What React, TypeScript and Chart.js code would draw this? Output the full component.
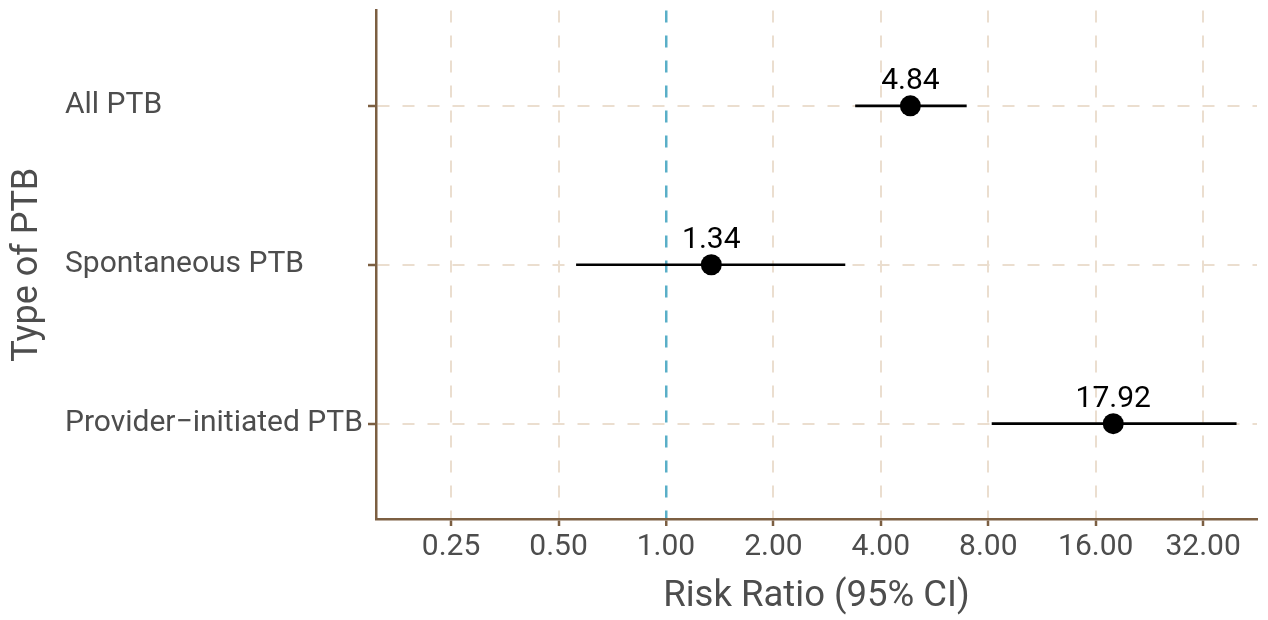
import React, { useEffect, useRef } from "react";
import { Chart, registerables } from "chart.js";

Chart.register(...registerables);

const categories = ["All PTB", "Spontaneous PTB", "Provider\u2212initiated PTB"];
const riskRatios = [4.84, 1.34, 17.92];
const lowerCI = [3.39, 0.56, 8.18];
const upperCI = [6.96, 3.18, 39.7];
const xTicks = [0.25, 0.5, 1, 2, 4, 8, 16, 32];
const xMin = 0.154;
const xMax = 45.3;

const BROWN = "#7c5f42";
const GRID = "#ebdecf";
const BLUE = "#5aafc8";
const TEXT = "#4d4d4d";
const FONT = "Roboto";

const valueLabels = {
  id: "valueLabels",
  afterDatasetsDraw(chart: any) {
    const { ctx } = chart;
    const xs = chart.scales.x;
    const ys = chart.scales.y;
    ctx.save();
    ctx.fillStyle = "#000000";
    ctx.font = `30px ${FONT}`;
    ctx.textAlign = "center";
    ctx.textBaseline = "alphabetic";
    riskRatios.forEach((v, i) => {
      const px = xs.getPixelForValue(v);
      const py = ys.getPixelForValue(i + 1);
      ctx.fillText(v.toFixed(2), px, py - 17);
    });
    ctx.restore();
  },
};

export default function App() {
  const ref = useRef<HTMLCanvasElement | null>(null);

  useEffect(() => {
    if (!ref.current) return;
    const pointData = riskRatios.map((v, i) => ({ x: v, y: i + 1 }));
    const ciSets = categories.map((_, i) => ({
      type: "line" as const,
      data: [
        { x: lowerCI[i], y: i + 1 },
        { x: upperCI[i], y: i + 1 },
      ],
      showLine: true,
      borderColor: "#000000",
      borderWidth: 2.6,
      pointRadius: 0,
      fill: false,
    }));
    const chart = new Chart(ref.current, {
      type: "scatter",
      data: {
        datasets: [
          {
            data: pointData,
            pointRadius: 10.5,
            pointBackgroundColor: "#000000",
            pointBorderColor: "#000000",
            pointBorderWidth: 0,
          } as any,
          ...ciSets,
        ],
      },
      options: {
        animation: false,
        responsive: false,
        maintainAspectRatio: false,
        layout: { padding: { left: 65, top: 10, right: 11, bottom: 0 } },
        plugins: { legend: { display: false }, tooltip: { enabled: false } },
        scales: {
          x: {
            type: "logarithmic",
            min: xMin,
            max: xMax,
            afterBuildTicks: (scale: any) => {
              scale.ticks = xTicks.map((v) => ({ value: v }));
            },
            afterFit: (scale: any) => {
              scale.height = 101;
              scale.paddingLeft = 0;
              scale.paddingRight = 0;
            },
            ticks: {
              autoSkip: false,
              maxRotation: 0,
              color: TEXT,
              font: { family: FONT, size: 30 },
              padding: 3,
              callback: (v: any) => Number(v).toFixed(2),
            },
            grid: {
              color: (c: any) => (c.tick && c.tick.value === 1 ? BLUE : GRID),
              lineWidth: (c: any) => (c.tick && c.tick.value === 1 ? 2.5 : 2),
              tickColor: BROWN,
              tickWidth: 2.5,
              tickLength: 7,
              tickBorderDash: [],
            } as any,
            border: { display: true, color: BROWN, width: 2.5, dash: [12, 13] } as any,
            title: {
              display: true,
              text: "Risk Ratio (95% CI)",
              color: TEXT,
              font: { family: FONT, size: 36.5 },
              padding: { top: 0, bottom: 1 },
            },
          },
          y: {
            type: "linear",
            reverse: true,
            min: 0.4,
            max: 3.6,
            afterBuildTicks: (scale: any) => {
              scale.ticks = categories.map((_, i) => ({ value: i + 1 }));
            },
            afterFit: (scale: any) => {
              scale.width = 311;
              scale.paddingTop = 0;
              scale.paddingBottom = 0;
            },
            ticks: {
              autoSkip: false,
              crossAlign: "far",
              color: TEXT,
              font: { family: FONT, size: 30 },
              callback: (v: any) => categories[Math.round(Number(v)) - 1] ?? "",
            },
            grid: {
              color: GRID,
              lineWidth: 2,
              tickColor: BROWN,
              tickWidth: 2.5,
              tickLength: 8,
              tickBorderDash: [],
            } as any,
            border: { display: true, color: BROWN, width: 2.5, dash: [12, 13] } as any,
            title: {
              display: true,
              text: "Type of PTB",
              color: TEXT,
              font: { family: FONT, size: 36 },
              padding: { top: -59, bottom: 0 },
            },
          },
        },
      },
      plugins: [valueLabels],
    });
    return () => chart.destroy();
  }, []);

  return (
    <div style={{ position: "absolute", left: 0, top: 0, width: 1268, height: 620, background: "#ffffff" }}>
      <canvas ref={ref} width={1268} height={620} style={{ width: 1268, height: 620 }} />
    </div>
  );
}
